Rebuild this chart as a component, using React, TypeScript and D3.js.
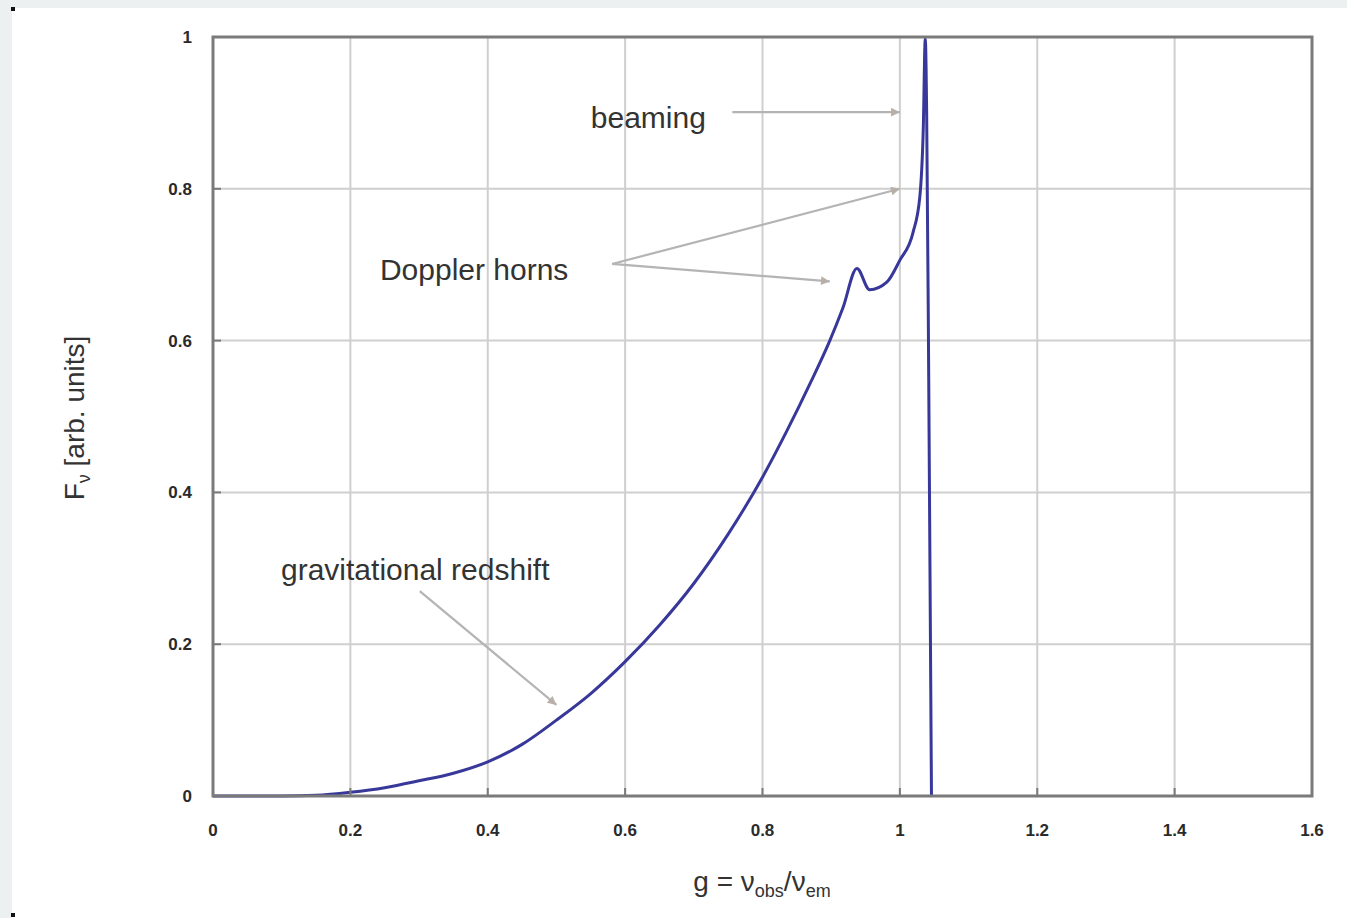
import { useEffect, useRef } from "react";
import * as d3 from "d3";

const gValues = [
  0, 0.1, 0.15, 0.2, 0.25, 0.3, 0.35, 0.4, 0.45, 0.5, 0.55, 0.6, 0.65, 0.7,
  0.75, 0.8, 0.836, 0.869, 0.898, 0.917, 0.9375, 0.956, 0.981, 1.0, 1.019,
  1.029, 1.034, 1.037, 1.039, 1.042, 1.046,
];
const fluxValues = [
  0, 0, 0.001, 0.005, 0.011, 0.02, 0.03, 0.045, 0.068, 0.1, 0.135, 0.177,
  0.225, 0.28, 0.345, 0.42, 0.482, 0.543, 0.6, 0.643, 0.695, 0.667, 0.677,
  0.706, 0.742, 0.789, 0.877, 0.998, 0.9, 0.55, 0,
];

const xTicks = [0, 0.2, 0.4, 0.6, 0.8, 1, 1.2, 1.4, 1.6];
const yTicks = [0, 0.2, 0.4, 0.6, 0.8, 1];

// annotations: label, label position (data coords), arrow targets (data coords)
const annotationLabels = ["beaming", "Doppler horns", "gravitational redshift"];
const annotationAnchors: [number, number][] = [
  [0.55, 0.88],
  [0.243, 0.68],
  [0.099, 0.285],
];
const arrowStarts: [number, number][] = [
  [0.756, 0.901],
  [0.581, 0.701],
  [0.581, 0.701],
  [0.301, 0.27],
];
const arrowEnds: [number, number][] = [
  [1.0, 0.901],
  [1.0, 0.8],
  [0.898, 0.678],
  [0.5, 0.12],
];

const W = 1347;
const H = 918;
const margin = { top: 37, right: 35, bottom: 122, left: 213 };

export default function App() {
  const svgRef = useRef<SVGSVGElement | null>(null);

  useEffect(() => {
    const innerW = W - margin.left - margin.right;
    const innerH = H - margin.top - margin.bottom;
    const x = d3.scaleLinear().domain([0, 1.6]).range([0, innerW]);
    const y = d3.scaleLinear().domain([0, 1]).range([innerH, 0]);

    const root = d3.select(svgRef.current).html("");

    // page backdrop
    root.append("rect").attr("width", W).attr("height", H).attr("fill", "#edf0f0");
    root.append("rect").attr("x", 12).attr("y", 8).attr("width", W - 12).attr("height", H - 8).attr("fill", "#ffffff");
    root.append("rect").attr("x", 11).attr("y", 7).attr("width", 4).attr("height", 4).attr("fill", "#111");
    root.append("rect").attr("x", 11).attr("y", 913).attr("width", 4).attr("height", 4).attr("fill", "#111");

    const defs = root.append("defs");
    defs
      .append("marker")
      .attr("id", "head")
      .attr("viewBox", "0 0 10 10")
      .attr("refX", 10)
      .attr("refY", 5)
      .attr("markerWidth", 6)
      .attr("markerHeight", 4)
      .attr("orient", "auto")
      .attr("markerUnits", "strokeWidth")
      .append("path")
      .attr("d", "M0,0 L10,5 L0,10 z")
      .attr("fill", "#b8b0a8");

    const g = root.append("g").attr("transform", `translate(${margin.left},${margin.top})`);

    // grid
    g.append("g")
      .selectAll("line")
      .data(xTicks.slice(1, -1))
      .join("line")
      .attr("x1", (d) => x(d))
      .attr("x2", (d) => x(d))
      .attr("y1", 0)
      .attr("y2", innerH)
      .attr("stroke", "#cfcfcf")
      .attr("stroke-width", 2);
    g.append("g")
      .selectAll("line")
      .data(yTicks.slice(1, -1))
      .join("line")
      .attr("x1", 0)
      .attr("x2", innerW)
      .attr("y1", (d) => y(d))
      .attr("y2", (d) => y(d))
      .attr("stroke", "#cfcfcf")
      .attr("stroke-width", 2);

    // tick labels
    g.append("g")
      .selectAll("text")
      .data(xTicks)
      .join("text")
      .attr("x", (d) => x(d))
      .attr("y", innerH + 40)
      .attr("text-anchor", "middle")
      .attr("font-family", "Liberation Sans, Arial, sans-serif")
      .attr("font-weight", "bold")
      .attr("font-size", 17)
      .attr("fill", "#2a2a2a")
      .text((d) => d3.format("~g")(d));
    g.append("g")
      .selectAll("text")
      .data(yTicks)
      .join("text")
      .attr("x", -21)
      .attr("y", (d) => y(d) + 6)
      .attr("text-anchor", "end")
      .attr("font-family", "Liberation Sans, Arial, sans-serif")
      .attr("font-weight", "bold")
      .attr("font-size", 17)
      .attr("fill", "#2a2a2a")
      .text((d) => d3.format("~g")(d));

    // annotation arrows
    g.append("g")
      .selectAll("line")
      .data(arrowStarts)
      .join("line")
      .attr("x1", (d) => x(d[0]))
      .attr("y1", (d) => y(d[1]))
      .attr("x2", (_, i) => x(arrowEnds[i][0]))
      .attr("y2", (_, i) => y(arrowEnds[i][1]))
      .attr("stroke", "#b4b4b4")
      .attr("stroke-width", 2.2)
      .attr("marker-end", "url(#head)");

    g.append("g")
      .selectAll("text")
      .data(annotationLabels)
      .join("text")
      .attr("x", (_, i) => x(annotationAnchors[i][0]))
      .attr("y", (_, i) => y(annotationAnchors[i][1]))
      .attr("font-family", "Liberation Sans, Arial, sans-serif")
      .attr("font-size", 30)
      .attr("fill", "#333")
      .text((d) => d);

    // the line profile
    const line = d3
      .line<number>()
      .x((d) => x(d))
      .y((_, i) => y(fluxValues[i]))
      .curve(d3.curveMonotoneX);
    g.append("path")
      .datum(gValues)
      .attr("d", line)
      .attr("fill", "none")
      .attr("stroke", "#38389a")
      .attr("stroke-width", 3)
      .attr("stroke-linejoin", "round");

    // frame with inward ticks
    g.append("rect")
      .attr("width", innerW)
      .attr("height", innerH)
      .attr("fill", "none")
      .attr("stroke", "#7a7a7a")
      .attr("stroke-width", 3);
    g.append("g")
      .selectAll("line")
      .data(xTicks)
      .join("line")
      .attr("x1", (d) => x(d))
      .attr("x2", (d) => x(d))
      .attr("y1", innerH)
      .attr("y2", innerH - 8)
      .attr("stroke", "#7a7a7a")
      .attr("stroke-width", 2);
    g.append("g")
      .selectAll("line")
      .data(yTicks)
      .join("line")
      .attr("x1", 0)
      .attr("x2", 8)
      .attr("y1", (d) => y(d))
      .attr("y2", (d) => y(d))
      .attr("stroke", "#7a7a7a")
      .attr("stroke-width", 2);

    // axis titles
    const xt = root
      .append("text")
      .attr("x", 762)
      .attr("y", 891)
      .attr("text-anchor", "middle")
      .attr("font-family", "Liberation Sans, Arial, sans-serif")
      .attr("font-size", 28)
      .attr("fill", "#333");
    xt.append("tspan").text("g = ν");
    xt.append("tspan").attr("font-size", 18).attr("dy", 6).text("obs");
    xt.append("tspan").attr("dy", -6).text("/ν");
    xt.append("tspan").attr("font-size", 18).attr("dy", 6).text("em");

    const yt = root
      .append("text")
      .attr("transform", "translate(84,418) rotate(-90)")
      .attr("text-anchor", "middle")
      .attr("font-family", "Liberation Sans, Arial, sans-serif")
      .attr("font-size", 28)
      .attr("fill", "#333");
    yt.append("tspan").text("F");
    yt.append("tspan").attr("font-size", 18).attr("dy", 6).text("ν");
    yt.append("tspan").attr("dy", -6).text(" [arb. units]");
  }, []);

  return (
    <svg
      ref={svgRef}
      width={W}
      height={H}
      style={{ position: "absolute", left: 0, top: 0 }}
    ></svg>
  );
}
